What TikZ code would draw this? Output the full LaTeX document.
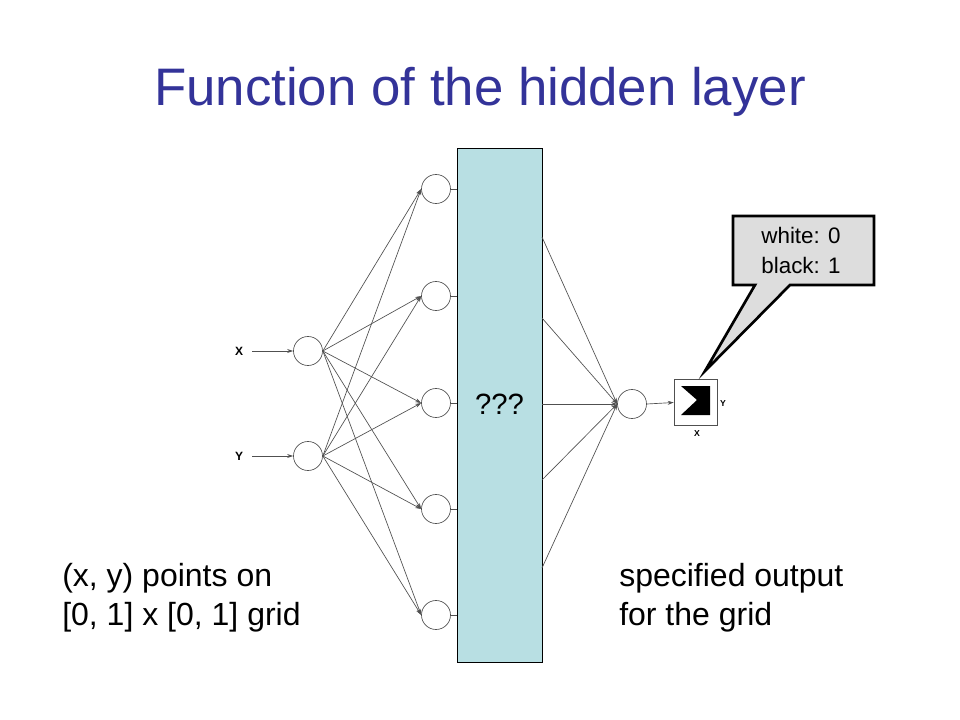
\documentclass[tikz,border=0pt]{standalone}
\usepackage{fontspec}
\setmainfont{Liberation Sans}
\usetikzlibrary{arrows.meta}
\definecolor{titleblue}{RGB}{51,51,153}
\definecolor{boxcyan}{RGB}{184,223,227}
\definecolor{callgray}{RGB}{221,221,221}
\definecolor{linegray}{RGB}{80,80,80}
\tikzset{
  neuron/.style={circle, draw=linegray, line width=0.5pt, minimum size=21.75pt, inner sep=0pt, fill=white},
  conn/.style={draw=linegray, line width=0.5pt, -{Stealth[length=4.5pt,width=3pt]}},
  stub/.style={draw=linegray, line width=0.5pt},
  axlabel/.style={font=\bfseries\fontsize{9}{10}\selectfont, inner sep=0pt},
  smlabel/.style={font=\bfseries\fontsize{6.5}{8}\selectfont, inner sep=0pt},
  bigtext/.style={font=\fontsize{24}{26.25}\selectfont, align=left, inner sep=0pt}
}
\begin{document}
\begin{tikzpicture}[x=0.75pt, y=-0.75pt]
\useasboundingbox (0,0) rectangle (960,720);
\fill[white] (0,0) rectangle (960,720);

% title
\node[text=titleblue, font=\fontsize{39.6}{46}\selectfont, inner sep=0pt] (title) at (480,92) {Function of the hidden layer};

% input neurons
\node[neuron] (inX) at (308,351) {};
\node[neuron] (inY) at (308,456) {};
\node[axlabel] (lblX) at (239,351) {X};
\node[axlabel] (lblY) at (239,456) {Y};
\coordinate (sX) at (252,351);
\coordinate (sY) at (252,456);
\draw[conn] (sX) -- (inX.west);
\draw[conn] (sY) -- (inY.west);

% hidden neurons
\node[neuron] (h1) at (436,189) {};
\node[neuron] (h2) at (436,296) {};
\node[neuron] (h3) at (436,403) {};
\node[neuron] (h4) at (436,509) {};
\node[neuron] (h5) at (436,615) {};

\foreach \i in {1,...,5}{
  \draw[conn] (inX.east) -- (h\i.west);
  \draw[conn] (inY.east) -- (h\i.west);
}

% hidden box
\node[draw=black, line width=0.6pt, fill=boxcyan, minimum width=63.75pt, minimum height=385.5pt, inner sep=0pt] (box) at (499.5,405) {};
\node[font=\fontsize{22}{24}\selectfont, inner sep=0pt] (qq) at (499.5,404) {???};
\foreach \i in {1,...,5}{
  \draw[stub] (h\i.east) -- (h\i.east -| box.west);
}

% output neuron
\node[neuron] (out) at (632,404) {};
\coordinate (o1) at (542,237);
\coordinate (o2) at (542,318);
\coordinate (o3) at (542,404);
\coordinate (o4) at (542,480);
\coordinate (o5) at (542,568);
\foreach \i in {1,...,5}{
  \draw[conn] (o\i) -- (out.west);
}

% output square
\node[draw=linegray, line width=0.5pt, minimum width=32.25pt, minimum height=34.5pt, inner sep=0pt] (sq) at (695.5,402.5) {};
\draw[conn] (out.east) -- (sq.west);
\fill[black] (681,386) -- (710,386) -- (710,415) -- (681,415) -- (697,400) -- cycle;
\node[smlabel] (sqY) at (723,404) {Y};
\node[smlabel] (sqX) at (697,434) {X};

% callout
\draw[line width=2pt, fill=callgray, line join=miter] (733,216) -- (874,216) -- (874,285) -- (790,285) -- (705,371) -- (755,285) -- (733,285) -- cycle;
\node[font=\fontsize{16.8}{22.5}\selectfont, align=center, inner sep=0pt] (calltext) at (801,250) {white: 0\\black: 1};

% bottom texts
\node[bigtext, anchor=west] (lefttext) at (62,597.5) {(x, y) points on\\[3pt]{[}0, 1{]} x {[}0, 1{]} grid};
\node[bigtext, anchor=west] (righttext) at (619,597.5) {specified output\\[3pt]for the grid};
\end{tikzpicture}
\end{document}
